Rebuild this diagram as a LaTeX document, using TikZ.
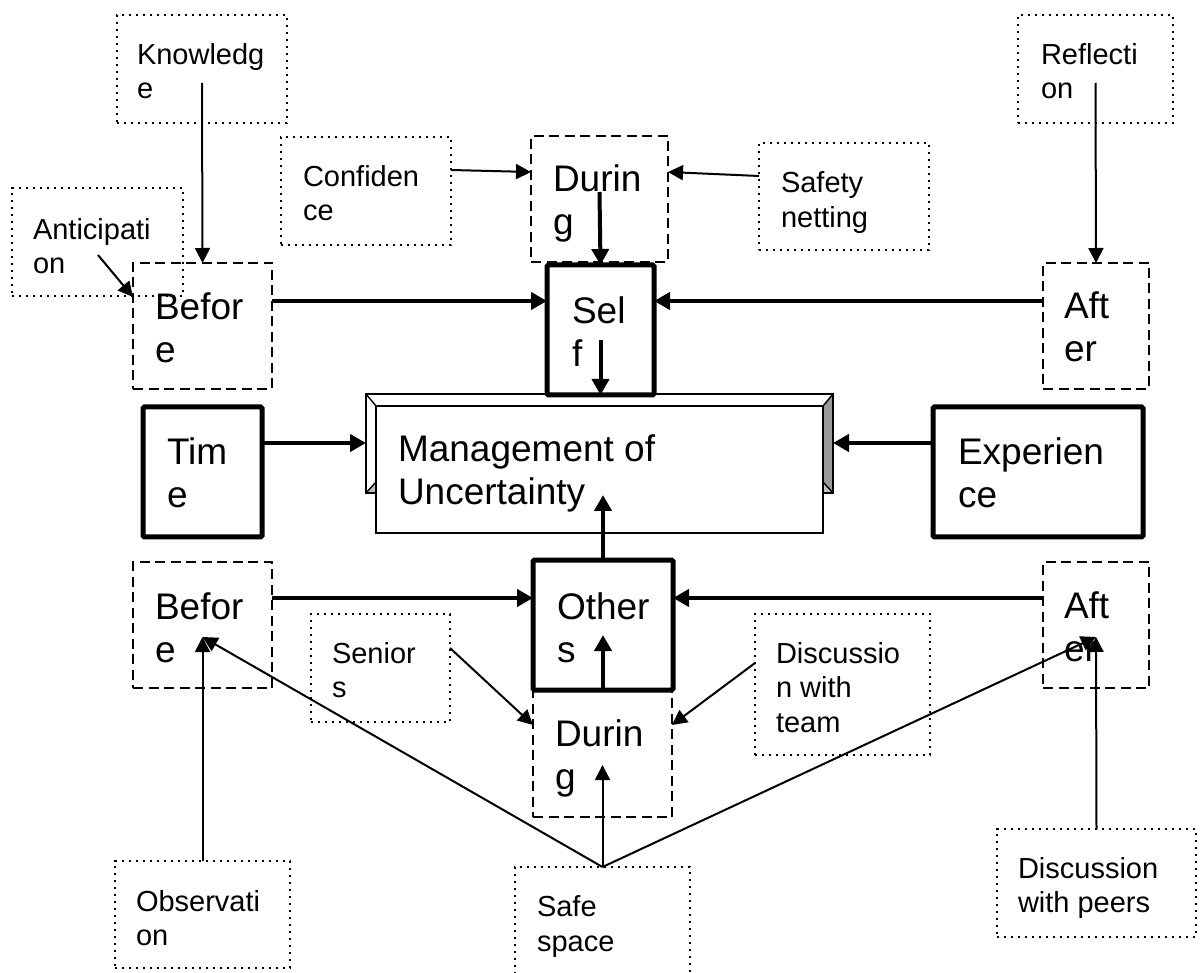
\documentclass[tikz,border=0pt]{standalone}
\usepackage{fontspec}
\setmainfont{Liberation Sans}
\usetikzlibrary{arrows.meta,calc}

\newcommand\bigfnt{\fontsize{37pt}{42.5pt}\selectfont}
\newcommand\smallfnt{\fontsize{29pt}{34.5pt}\selectfont}

\tikzset{
  frame/.style={draw, inner sep=0pt, outer sep=0pt, anchor=north west},
  dotbox/.style={frame, line width=2.1pt, dash pattern=on 2.1pt off 4.9pt},
  dashbox/.style={frame, line width=1.7pt, dash pattern=on 10pt off 5.5pt},
  heavybox/.style={frame, line width=5pt, rounded corners=1.5pt},
  bigtext/.style={anchor=north west, inner sep=0pt, outer sep=0pt, align=left, font=\bigfnt},
  smalltext/.style={anchor=north west, inner sep=0pt, outer sep=0pt, align=left, font=\smallfnt},
  thinarrow/.style={line width=2pt, -{Triangle[length=15pt,width=15pt]}},
  heavyarrow/.style={line width=4pt, -{Triangle[length=16pt,width=17pt]}},
}

\begin{document}
\begin{tikzpicture}[x=1pt,y=-1pt]
\useasboundingbox (0,0) rectangle (1203,973);

% ---- central bevelled panel ----
\node[frame, line width=1.6pt, fill=white, minimum width=467pt, minimum height=99pt] (back) at (366,394) {};
\fill[white!75!black] (back.south west) -- ++(10,-11) -- ($(back.south east)+(-10,-11)$) -- (back.south east) -- cycle;
\fill[white!60!black] (back.north east) -- ++(-10,12) -- ($(back.south east)+(-10,-11)$) -- (back.south east) -- cycle;
\draw[line width=1.4pt] (back.north west) -- ++(10,12) (back.north east) -- ++(-10,12)
  (back.south west) -- ++(10,-11) (back.south east) -- ++(-10,-11)
  ($(back.south east)+(-10,-11)$) -- ($(back.south west)+(10,-11)$);
\draw[line width=1.6pt] (back.north west) rectangle (back.south east);
\node[frame, line width=1.6pt, fill=white, minimum width=447pt, minimum height=127pt] (mgmt) at (376,406) {};
\node[bigtext] (mgmt-t) at ($(mgmt.north west)+(22,29)$) {Management of\\Uncertainty};

% ---- dotted influence boxes ----
\node[dotbox, minimum width=170pt, minimum height=108pt] (know) at (117,15) {};
\node[smalltext] (know-t) at ($(know.north west)+(20,28)$) {Knowledg\\e};
\node[dotbox, minimum width=171pt, minimum height=108pt] (antic) at (12,188) {};
\node[smalltext] (antic-t) at ($(antic.north west)+(21,30)$) {Anticipati\\on};
\node[dotbox, minimum width=170pt, minimum height=108pt] (conf) at (281,137) {};
\node[smalltext] (conf-t) at ($(conf.north west)+(22,28)$) {Confiden\\ce};
\node[dotbox, minimum width=170pt, minimum height=107pt] (safety) at (759,143) {};
\node[smalltext] (safety-t) at ($(safety.north west)+(22,29)$) {Safety\\netting};
\node[dotbox, minimum width=155pt, minimum height=108pt] (refl) at (1018,15) {};
\node[smalltext] (refl-t) at ($(refl.north west)+(23,28)$) {Reflecti\\on};
\node[dotbox, minimum width=139pt, minimum height=108pt] (seniors) at (311,614) {};
\node[smalltext] (seniors-t) at ($(seniors.north west)+(21,28)$) {Senior\\s};
\node[dotbox, minimum width=175pt, minimum height=141pt] (team) at (755,614) {};
\node[smalltext] (team-t) at ($(team.north west)+(21,28)$) {Discussio\\n with\\team};
\node[dotbox, minimum width=175pt, minimum height=107pt] (obs) at (115,861) {};
\node[smalltext] (obs-t) at ($(obs.north west)+(21,29)$) {Observati\\on};
\node[dotbox, minimum width=175pt, minimum height=112pt] (safe) at (515,867) {};
\node[smalltext] (safe-t) at ($(safe.north west)+(22,29)$) {Safe\\space};
\node[dotbox, minimum width=199pt, minimum height=108pt] (peers) at (997,829) {};
\node[smalltext] (peers-t) at ($(peers.north west)+(21,28)$) {Discussion\\with peers};

% ---- dashed phase boxes ----
\node[dashbox, minimum width=137pt, minimum height=126pt] (during1) at (531,136) {};
\node[bigtext] (during1-t) at ($(during1.north west)+(22,29)$) {Durin\\g};
\node[dashbox, minimum width=139pt, minimum height=126pt] (before1) at (133,263) {};
\node[bigtext] (before1-t) at ($(before1.north west)+(22,30)$) {Befor\\e};
\node[dashbox, minimum width=106pt, minimum height=126pt] (after1) at (1043,263) {};
\node[bigtext] (after1-t) at ($(after1.north west)+(21,29)$) {Aft\\er};
\node[dashbox, minimum width=139pt, minimum height=126pt] (before2) at (133,562) {};
\node[bigtext] (before2-t) at ($(before2.north west)+(22,31)$) {Befor\\e};
\node[dashbox, minimum width=106pt, minimum height=126pt] (after2) at (1043,562) {};
\node[bigtext] (after2-t) at ($(after2.north west)+(21,30)$) {Aft\\er};
\node[dashbox, minimum width=139pt, minimum height=127pt] (during2) at (533,690) {};
\node[bigtext] (during2-t) at ($(during2.north west)+(22,30)$) {Durin\\g};

% ---- heavy core boxes ----
\node[heavybox, minimum width=107pt, minimum height=130pt] (self) at (547,265) {};
\node[bigtext] (self-t) at ($(self.north west)+(25,32)$) {Sel\\f};
\node[heavybox, minimum width=119pt, minimum height=130pt] (time) at (143,407) {};
\node[bigtext] (time-t) at ($(time.north west)+(24,31)$) {Tim\\e};
\node[heavybox, minimum width=210pt, minimum height=130pt] (exp) at (933,407) {};
\node[bigtext] (exp-t) at ($(exp.north west)+(25,31)$) {Experien\\ce};
\node[heavybox, minimum width=140pt, minimum height=130pt] (others) at (533,560) {};
\node[bigtext] (others-t) at ($(others.north west)+(24,33)$) {Other\\s};

% ---- meeting points of the lower arrows ----
\coordinate (tipL) at ($(before2.south)+(0,-51)$);
\coordinate (tipR) at ($(after2.south)+(0,-51)$);

% ---- thin connectors ----
\draw[thinarrow] ($(know.center)+(0,14)$) -- (before1.north);
\draw[thinarrow] ($(antic.north west)+(86,67)$) -- ($(before1.north west)+(0,34)$);
\draw[thinarrow] ($(conf.north east)+(0,33)$) -- ($(during1.north west)+(0,36)$);
\draw[thinarrow] ($(safety.north west)+(0,33)$) -- ($(during1.north east)+(0,36)$);
\draw[thinarrow] ($(refl.center)+(0,14)$) -- (after1.north);
\draw[thinarrow] ($(seniors.north east)+(0,34)$) -- ($(during2.north west)+(0,35)$);
\draw[thinarrow] ($(team.north west)+(0,49)$) -- ($(during2.north east)+(0,35)$);
\draw[thinarrow] (safe.north) -- ($(during2.south)+(0,-52)$);
\draw[thinarrow] (safe.north) -- (tipL);
\draw[thinarrow] (safe.north) -- (tipR);
\draw[thinarrow] (obs.north) -- (tipL);
\draw[thinarrow] (peers.north) -- (tipR);

% ---- heavy connectors ----
\draw[heavyarrow] ($(during1.south)+(0,-70)$) -- (self.north);
\draw[heavyarrow] ($(before1.north east)+(0,38)$) -- ($(self.north west)+(0,36)$);
\draw[heavyarrow] ($(after1.north west)+(0,38)$) -- ($(self.north east)+(0,36)$);
\draw[heavyarrow] ($(self.south)+(0,-55)$) -- (self.south);
\draw[heavyarrow] ($(time.north east)+(0,36)$) -- ($(back.north west)+(0,49)$);
\draw[heavyarrow] ($(exp.north west)+(0,36)$) -- ($(back.north east)+(0,49)$);
\draw[heavyarrow] (others.north) -- ($(others.north)+(0,-65)$);
\draw[heavyarrow] ($(before2.north east)+(0,36)$) -- ($(others.north west)+(0,38)$);
\draw[heavyarrow] ($(after2.north west)+(0,36)$) -- ($(others.north east)+(0,38)$);
\draw[heavyarrow] (others.south) -- ($(others.south)+(0,-55)$);
\end{tikzpicture}
\end{document}
